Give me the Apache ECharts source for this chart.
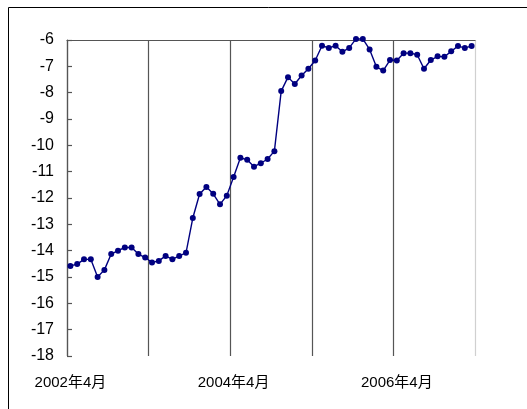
<!DOCTYPE html>
<html>
<head>
<meta charset="utf-8">
<script src="https://cdn.jsdelivr.net/npm/echarts@6/dist/echarts.min.js"></script>
<style>
html,body{margin:0;padding:0;background:#fff;}
#chart{width:527px;height:409px;}
</style>
</head>
<body>
<div id="chart"></div>
<script>
var categories = [
  "2002年4月","2002年5月","2002年6月","2002年7月","2002年8月","2002年9月","2002年10月","2002年11月","2002年12月","2003年1月","2003年2月","2003年3月",
  "2003年4月","2003年5月","2003年6月","2003年7月","2003年8月","2003年9月","2003年10月","2003年11月","2003年12月","2004年1月","2004年2月","2004年3月",
  "2004年4月","2004年5月","2004年6月","2004年7月","2004年8月","2004年9月","2004年10月","2004年11月","2004年12月","2005年1月","2005年2月","2005年3月",
  "2005年4月","2005年5月","2005年6月","2005年7月","2005年8月","2005年9月","2005年10月","2005年11月","2005年12月","2006年1月","2006年2月","2006年3月",
  "2006年4月","2006年5月","2006年6月","2006年7月","2006年8月","2006年9月","2006年10月","2006年11月","2006年12月","2007年1月","2007年2月","2007年3月"
];
var values = [
  -14.58,-14.51,-14.33,-14.33,-15.0,-14.73,-14.13,-14.0,-13.88,-13.88,-14.13,-14.26,
  -14.45,-14.39,-14.2,-14.33,-14.2,-14.08,-12.76,-11.85,-11.58,-11.84,-12.24,-11.91,
  -11.2,-10.47,-10.55,-10.81,-10.68,-10.52,-10.22,-7.94,-7.41,-7.67,-7.35,-7.09,
  -6.78,-6.22,-6.30,-6.22,-6.45,-6.30,-5.96,-5.96,-6.36,-7.02,-7.16,-6.76,
  -6.78,-6.5,-6.5,-6.56,-7.09,-6.76,-6.62,-6.64,-6.43,-6.23,-6.30,-6.23
];
var yMin = -18, yMax = -6, yStep = 1;

var chart = echarts.init(document.getElementById('chart'), null, {renderer:'canvas'});
var font = '"Liberation Sans", Arial, "Noto Sans CJK JP", sans-serif';
chart.setOption({
  animation: false,
  backgroundColor: '#ffffff',
  graphic: [{
    type: 'rect', silent: true, z: 100,
    shape: {x: 8.5, y: 7.5, width: 560, height: 440},
    style: {fill: 'none', stroke: '#000', lineWidth: 1}
  }],
  grid: {left: 67, right: 52, top: 40, bottom: 53},
  xAxis: [{
    type: 'category',
    data: categories,
    boundaryGap: true,
    position: 'bottom',
    axisLine: {show: false},
    axisTick: {show: false},
    axisLabel: {interval: 23, color: '#000', fontSize: 15, fontFamily: font, margin: 19},
    splitLine: {show: true, interval: 11, lineStyle: {color: ['#555555','#555555','#555555','#555555','#555555','#d0d0d0'], width: 1.2}}
  }, {
    type: 'category',
    data: categories,
    position: 'top',
    axisLine: {show: true, lineStyle: {color: '#555555', width: 1.2}},
    axisTick: {show: false},
    axisLabel: {show: false},
    splitLine: {show: false}
  }],
  yAxis: {
    type: 'value',
    min: yMin, max: yMax, interval: yStep,
    axisLine: {show: true, lineStyle: {color: '#555555', width: 1.2}},
    axisTick: {show: true, inside: true, length: 5, lineStyle: {color: '#555555', width: 1.2}},
    axisLabel: {color: '#000', fontSize: 16, fontFamily: font, margin: 13},
    splitLine: {show: false}
  },
  series: [{
    type: 'line',
    data: values,
    xAxisIndex: 0,
    symbol: 'circle',
    symbolSize: 6,
    showAllSymbol: true,
    clip: false,
    lineStyle: {color: '#000080', width: 1.4},
    itemStyle: {color: '#000080'},
    z: 5
  }]
});
</script>
</body>
</html>
